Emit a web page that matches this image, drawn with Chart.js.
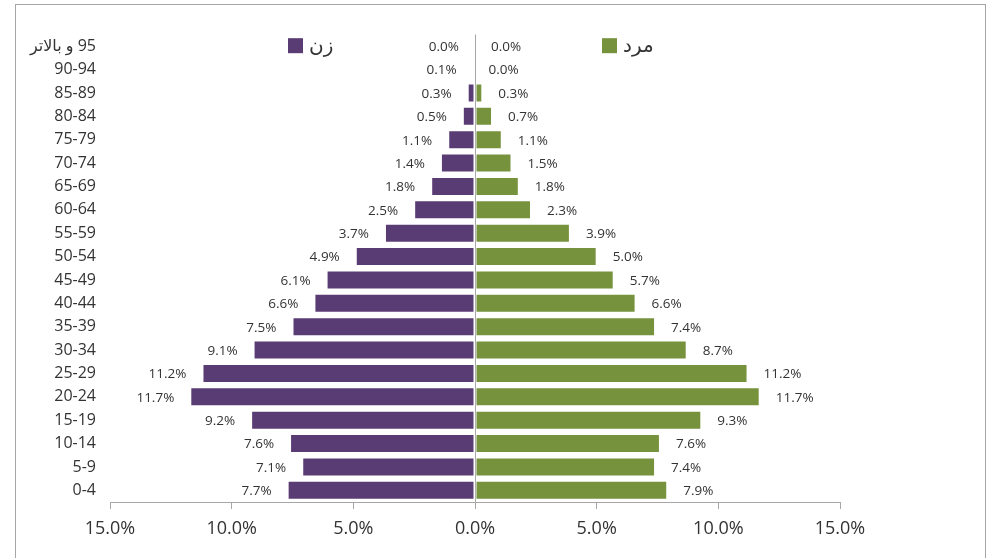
<!DOCTYPE html>
<html>
<head>
<meta charset="utf-8">
<script src="https://cdn.jsdelivr.net/npm/chart.js@4"></script>
<style>
  body { margin: 0; background: #fff; }
  canvas { display: block; }
</style>
</head>
<body>
<canvas id="pyramid" width="990" height="558"></canvas>
<script>
// age groups, top row first
const ageGroups = ['و بالاتر\u200E 95', '90-94', '85-89', '80-84', '75-79', '70-74', '65-69', '60-64',
  '55-59', '50-54', '45-49', '40-44', '35-39', '30-34', '25-29', '20-24', '15-19', '10-14', '5-9', '0-4'];

// percent of population
const women = [0.0, 0.1, 0.3, 0.5, 1.1, 1.4, 1.8, 2.5, 3.7, 4.9, 6.1, 6.6, 7.5, 9.1, 11.2, 11.7, 9.2, 7.6, 7.1, 7.7];
const men = [0.0, 0.0, 0.3, 0.7, 1.1, 1.5, 1.8, 2.3, 3.9, 5.0, 5.7, 6.6, 7.4, 8.7, 11.2, 11.7, 9.3, 7.6, 7.4, 7.9];

const womenLabel = 'زن';
const menLabel = 'مرد';
const xTicks = [-15, -10, -5, 0, 5, 10, 15];

const purple = '#5a3c75';
const green = '#76923c';
const gray = '#a6a6a6';
const textColor = '#333';
const fontFamily = '"Open Sans", "DejaVu Sans", sans-serif';

// frame around the whole picture
const framePlugin = {
  id: 'frame',
  beforeDraw(chart) {
    const ctx = chart.ctx;
    ctx.save();
    ctx.fillStyle = '#fff';
    ctx.fillRect(0, 0, chart.width, chart.height);
    ctx.strokeStyle = gray;
    ctx.lineWidth = 1;
    ctx.strokeRect(15.5, 4.5, 970, 600);
    ctx.restore();
  }
};

// value labels at the end of each bar
const valueLabels = {
  id: 'valueLabels',
  afterDatasetsDraw(chart) {
    const ctx = chart.ctx;
    ctx.save();
    ctx.font = '13.5px ' + fontFamily;
    ctx.fillStyle = textColor;
    ctx.textBaseline = 'middle';
    chart.data.datasets.forEach((ds, i) => {
      chart.getDatasetMeta(i).data.forEach((bar, j) => {
        const v = Math.abs(ds.data[j]).toFixed(1) + '%';
        if (i === 0) {
          ctx.textAlign = 'right';
          ctx.fillText(v, bar.x - 16, bar.y + 1);
        } else {
          ctx.textAlign = 'left';
          ctx.fillText(v, bar.x + 16, bar.y + 1);
        }
      });
    });
    ctx.restore();
  }
};

// legend sits inside the plot, on the top row
const legendPlugin = {
  id: 'insideLegend',
  afterDraw(chart) {
    const ctx = chart.ctx;
    const x = chart.scales.x;
    const y = chart.scales.y.getPixelForValue(0);
    const mid = x.getPixelForValue(0);
    const items = [
      { label: womenLabel, color: purple, left: mid - 187 },
      { label: menLabel, color: green, left: mid + 127 }
    ];
    ctx.save();
    ctx.font = '20px ' + fontFamily;
    ctx.textBaseline = 'middle';
    ctx.textAlign = 'left';
    items.forEach(it => {
      ctx.fillStyle = it.color;
      ctx.fillRect(it.left, y - 8, 15, 15);
      ctx.fillStyle = textColor;
      ctx.fillText(it.label, it.left + 21, y);
    });
    ctx.restore();
  }
};

const ctx = document.getElementById('pyramid').getContext('2d');
new Chart(ctx, {
  type: 'bar',
  data: {
    labels: ageGroups,
    datasets: [
      {
        label: womenLabel,
        data: women.map(v => -v),
        backgroundColor: purple,
        borderColor: 'rgba(255,255,255,0.5)',
        borderWidth: 1,
        borderSkipped: false
      },
      {
        label: menLabel,
        data: men,
        backgroundColor: green,
        borderColor: 'rgba(255,255,255,0.5)',
        borderWidth: 1,
        borderSkipped: false
      }
    ]
  },
  options: {
    indexAxis: 'y',
    responsive: false,
    animation: false,
    layout: { padding: { top: 34.5, right: 150, left: 0, bottom: 0 } },
    datasets: { bar: { categoryPercentage: 1, barPercentage: 0.81 } },
    plugins: {
      legend: { display: false },
      tooltip: { enabled: false }
    },
    scales: {
      x: {
        stacked: true,
        min: -15,
        max: 15,
        afterFit(scale) { scale.height = 56; },
        afterBuildTicks(scale) { scale.ticks = xTicks.map(v => ({ value: v })); },
        ticks: {
          padding: 9,
          color: textColor,
          font: { size: 18, family: fontFamily },
          callback: v => Math.abs(v).toFixed(1) + '%'
        },
        grid: {
          color: c => (c.tick && c.tick.value === 0) ? gray : 'rgba(0,0,0,0)',
          tickColor: gray,
          tickLength: 7,
          tickWidth: 1
        },
        border: { display: true, color: gray, width: 1 }
      },
      y: {
        stacked: true,
        afterFit(scale) { scale.width = 110; },
        ticks: {
          padding: 14,
          color: textColor,
          font: { size: 16, family: fontFamily },
          autoSkip: false
        },
        grid: { display: false, drawTicks: false },
        border: { display: false }
      }
    }
  },
  plugins: [framePlugin, valueLabels, legendPlugin]
});
</script>
</body>
</html>
